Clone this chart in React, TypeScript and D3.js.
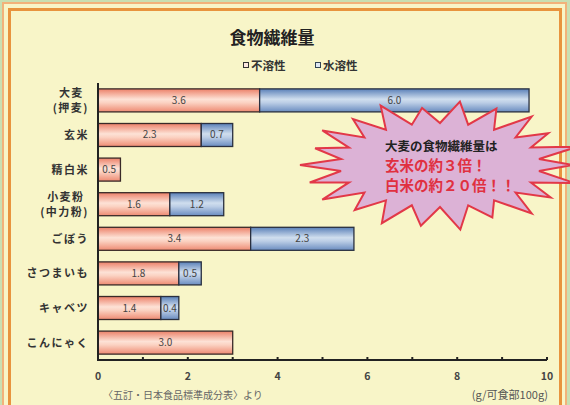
import React from "react";
import * as d3 from "d3";

const categories = ["大麦|(押麦)", "玄米", "精白米", "小麦粉|(中力粉)", "ごぼう", "さつまいも", "キャベツ", "こんにゃく"];
const insoluble = [3.6, 2.3, 0.5, 1.6, 3.4, 1.8, 1.4, 3.0];
const soluble = [6.0, 0.7, 0, 1.2, 2.3, 0.5, 0.4, 0];
const xTicks = [0, 2, 4, 6, 8, 10];
const seriesNames = ["不溶性", "水溶性"];
const title = "食物繊維量";
const calloutLines = ["大麦の食物繊維量は", "玄米の約３倍！", "白米の約２０倍！！"];
const spikeFactors = [1.0, 0.93, 1.0, 0.95, 1.02, 0.9, 1.0, 0.97, 1.0, 0.92, 1.03, 0.95, 1.0, 0.94, 1.0, 0.9, 1.02, 0.96, 1.0, 0.93, 1.0, 0.97];

const FONT = "'Noto Sans CJK JP', 'Noto Sans', sans-serif";

export default function App() {
  const W = 570, H = 405;
  const x = d3.scaleLinear().domain([0, 10]).range([98, 547]);
  const y = d3.scaleBand<number>().domain(d3.range(categories.length)).range([83, 360]).paddingInner(0.335).paddingOuter(0.17);
  const bh = y.bandwidth();

  // starburst
  const cx = 440, cy = 165;
  const N = spikeFactors.length;
  const pts: [number, number][] = [];
  for (let i = 0; i < N; i++) {
    const a = (i / N) * Math.PI * 2 + Math.PI;
    const f = spikeFactors[i];
    pts.push([cx + Math.cos(a) * 140 * f, cy + Math.sin(a) * 64 * f]);
    const a2 = a + Math.PI / N;
    pts.push([cx + Math.cos(a2) * 100, cy + Math.sin(a2) * 42]);
  }
  const burst = d3.line().curve(d3.curveLinearClosed)(pts) || "";

  const fullW = (s: string, fs: number) => {
    let w = 0;
    for (const ch of s) w += /[\x00-\x7f]/.test(ch) ? fs * 0.42 : fs;
    return w;
  };

  return (
    <svg width={W} height={H} style={{ position: "absolute", left: 0, top: 0 }} fontFamily={FONT}>
      <defs>
        <linearGradient id="gPink" x1="0" y1="0" x2="0" y2="1">
          <stop offset="0" stopColor="#ec8068" />
          <stop offset="0.45" stopColor="#fde2d6" />
          <stop offset="0.6" stopColor="#fbd2c2" />
          <stop offset="1" stopColor="#ee8a72" />
        </linearGradient>
        <linearGradient id="gBlue" x1="0" y1="0" x2="0" y2="1">
          <stop offset="0" stopColor="#5a80b8" />
          <stop offset="0.45" stopColor="#d0deee" />
          <stop offset="0.6" stopColor="#bccee6" />
          <stop offset="1" stopColor="#6a8cc0" />
        </linearGradient>
      </defs>
      <rect x={0} y={0} width={W} height={H} fill="#c9dfb2" />
      <rect x={3} y={3} width={563} height={440} fill="#f8f5c8" stroke="#f2b27a" strokeWidth={2} />
      <rect x={9.5} y={9.5} width={551} height={440} fill="none" stroke="#e8943e" strokeWidth={3} />

      <text x={272} y={44} textAnchor="middle" fontSize={17} fontWeight="bold" fill="#222">{title}</text>

      {/* legend */}
      {seriesNames.map((s, i) => {
        const lx = 243 + i * 72;
        return (
          <g key={s}>
            <rect x={lx + 0.5} y={62.5} width={5} height={5} fill={i === 0 ? "#fde8e0" : "#dfe8f4"} stroke={i === 0 ? "#333" : "#345"} strokeWidth={1} />
            <text x={lx + 8} y={69.5} fontSize={11.5} fill="#333" fontWeight="bold">{s}</text>
          </g>
        );
      })}

      {/* bars */}
      {categories.map((c, i) => {
        const y0 = y(i)!;
        const a = insoluble[i], b = soluble[i];
        return (
          <g key={c}>
            <rect x={x(0)} y={y0} width={x(a) - x(0)} height={bh} fill="url(#gPink)" stroke="#3a2a28" strokeWidth={1.3} />
            {b > 0 && <rect x={x(a)} y={y0} width={x(a + b) - x(a)} height={bh} fill="url(#gBlue)" stroke="#2a3040" strokeWidth={1.3} />}
            <text x={(x(0) + x(a)) / 2} y={y0 + bh / 2 + 3.5} textAnchor="middle" fontSize={10} fill="#444">{a.toFixed(1)}</text>
            {b > 0 && <text x={(x(a) + x(a + b)) / 2} y={y0 + bh / 2 + 3.5} textAnchor="middle" fontSize={10} fill="#444">{b.toFixed(1)}</text>}
          </g>
        );
      })}

      {/* category labels */}
      {categories.map((c, i) => {
        const parts = c.split("|");
        const yc = y(i)! + bh / 2;
        if (parts.length === 1) {
          return <text key={c} x={89} y={yc + 4} textAnchor="end" fontSize={11} fill="#333" fontWeight="bold" letterSpacing={1.5}>{c}</text>;
        }
        const w2 = fullW(parts[1], 11) + 4;
        const mid = 89 - w2 / 2;
        return (
          <g key={c}>
            <text x={mid} y={yc - 3} textAnchor="middle" fontSize={11} fill="#333" fontWeight="bold" letterSpacing={1.5}>{parts[0]}</text>
            <text x={89} y={yc + 12} textAnchor="end" fontSize={11} fill="#333" fontWeight="bold" letterSpacing={1.5}>{parts[1]}</text>
          </g>
        );
      })}

      {/* axes */}
      <line x1={98} y1={83} x2={98} y2={360} stroke="#222" strokeWidth={2} />
      <line x1={97} y1={360} x2={547} y2={360} stroke="#222" strokeWidth={2} />
      {x.ticks(10).map((t) => (
        <rect key={t} x={x(t) - 1} y={357} width={2} height={3} fill="#222" />
      ))}
      {xTicks.map((t) => (
        <text key={t} x={x(t)} y={380} textAnchor="middle" fontSize={10.5} fill="#444" fontWeight="bold">{t}</text>
      ))}

      <text x={103} y={399} fontSize={10} fill="#666">〈五訂・日本食品標準成分表〉より</text>
      <text x={548} y={399} textAnchor="end" fontSize={11} fill="#555">(g/可食部100g)</text>

      {/* callout */}
      <path d={burst} fill="#dcb2d6" stroke="#e23848" strokeWidth={2} strokeLinejoin="miter" />
      <text x={385} y={151} fontSize={12.5} fontWeight="bold" fill="#222">{calloutLines[0]}</text>
      <text x={385} y={171} fontSize={14.5} fontWeight="bold" fill="#e03040">{calloutLines[1]}</text>
      <text x={385} y={191} fontSize={14.5} fontWeight="bold" fill="#e03040">{calloutLines[2]}</text>
    </svg>
  );
}
